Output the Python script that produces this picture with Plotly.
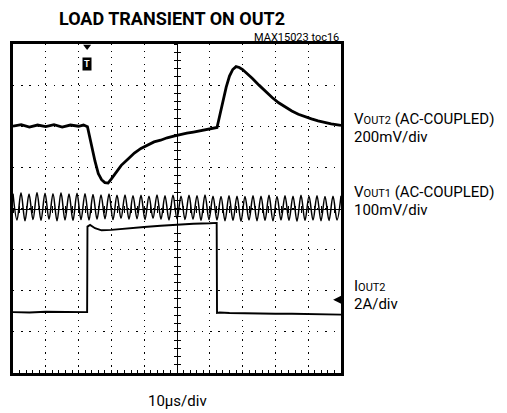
import numpy as np
import plotly.graph_objects as go

# ---- data (screen divisions: x 0..10, y 0..8) ----
vout2_t = [0, 0.25, 0.5, 0.75, 1.0, 1.25, 1.5, 1.75, 2.0, 2.15, 2.27, 2.4, 2.5, 2.6, 2.7, 2.8, 2.9,
           3.0, 3.15, 3.3, 3.5, 3.7, 3.9, 4.1, 4.3, 4.5, 4.7, 4.9, 5.1, 5.3, 5.5, 5.7, 5.9, 6.1, 6.22,
           6.3, 6.4, 6.5, 6.6, 6.7, 6.8, 6.9, 7.0, 7.15, 7.3, 7.5, 7.7, 7.9, 8.1, 8.3, 8.5, 8.7, 8.9,
           9.1, 9.3, 9.5, 9.7, 9.85, 10.0]
vout2_v = [6.00, 6.04, 5.98, 6.03, 5.99, 6.04, 5.98, 6.03, 6.00, 6.03, 5.99, 5.50, 5.15, 4.85, 4.70, 4.63, 4.62,
           4.72, 4.88, 5.05, 5.20, 5.35, 5.46, 5.55, 5.62, 5.66, 5.72, 5.76, 5.80, 5.83, 5.86, 5.89, 5.92, 5.95, 5.97,
           6.25, 6.62, 6.95, 7.22, 7.38, 7.45, 7.43, 7.38, 7.28, 7.16, 7.00, 6.84, 6.70, 6.57, 6.46, 6.37, 6.29, 6.23,
           6.18, 6.13, 6.09, 6.06, 6.04, 6.02]

vout1_v = [4.36, 3.72, 4.38, 3.70, 4.35, 3.73, 4.39, 3.71, 4.37, 3.74,
           4.36, 3.70, 4.38, 3.72, 4.35, 3.71, 4.37, 3.73, 4.36, 3.72,
           4.34, 3.74, 4.33, 3.75, 4.35, 3.73, 4.32, 3.76, 4.33, 3.74,
           4.31, 3.75, 4.32, 3.73, 4.30, 3.76, 4.33, 3.74, 4.31, 3.72,
           4.32, 3.75, 4.30, 3.73, 4.32, 3.74, 4.31, 3.71, 4.33, 3.73,
           4.30, 3.72, 4.29, 3.70, 4.31, 3.71, 4.30, 3.69, 4.29, 3.72,
           4.31, 3.70, 4.30, 3.71, 4.32, 3.70, 4.29, 3.72, 4.31, 3.71,
           4.30, 3.69, 4.32, 3.71, 4.30, 3.72, 4.31, 3.70, 4.29, 3.71,
           4.30, 3.72, 4.31]
vout1_t = np.linspace(0, 10, len(vout1_v))

iout2_t = [0, 0.5, 1.0, 1.5, 2.0, 2.26, 2.27, 2.35, 2.5, 2.7, 3.0, 3.5, 4.0, 4.5, 5.0, 5.5, 6.0, 6.21,
           6.22, 6.3, 6.6, 7.0, 7.5, 8.0, 8.5, 9.0, 9.5, 10.0]
iout2_v = [1.48, 1.47, 1.49, 1.48, 1.47, 1.48, 3.56, 3.60, 3.52, 3.47, 3.48, 3.52, 3.55, 3.58, 3.61, 3.63, 3.64, 3.65,
           1.46, 1.47, 1.46, 1.45, 1.45, 1.44, 1.44, 1.43, 1.43, 1.42]

trigger_t = 2.26
iout2_ref = 1.78

title_text = "LOAD TRANSIENT ON OUT2"
tag_text = "MAX15023 toc16"
labels = [
    ("V<span style='font-size:11px'>OUT2</span> (AC-COUPLED)", "200mV/div", 119, 137),
    ("V<span style='font-size:11px'>OUT1</span> (AC-COUPLED)", "100mV/div", 192, 210),
    ("I<span style='font-size:11px'>OUT2</span>", "2A/div", 286, 304),
]
xlabel = "10µs/div"

# ---- geometry ----
W, H = 507, 413
PL, PR, PT, PB = 13, 341, 44, 373
def px(x):
    return (x - PL) / (PR - PL)
def py(y):
    return (PB - y) / (PB - PT)

FONT = "Roboto, Liberation Sans, sans-serif"

fig = go.Figure()
fig.add_trace(go.Scatter(x=vout1_t, y=vout1_v, mode="lines", line=dict(color="black", width=1.5, shape="spline", smoothing=1.0),
                         showlegend=False, hoverinfo="skip"))
fig.add_trace(go.Scatter(x=vout2_t, y=vout2_v, mode="lines", line=dict(color="black", width=2.8),
                         showlegend=False, hoverinfo="skip"))
fig.add_trace(go.Scatter(x=iout2_t, y=iout2_v, mode="lines", line=dict(color="black", width=1.9),
                         showlegend=False, hoverinfo="skip"))
# trigger triangle on top edge
fig.add_trace(go.Scatter(x=[trigger_t], y=[7.94], mode="markers", marker=dict(symbol="triangle-down", size=7, color="black"),
                         cliponaxis=False, showlegend=False, hoverinfo="skip"))
# center-line axes helper traces
for xa, ya in (("x2", "y2"), ("x3", "y3")):
    fig.add_trace(go.Scatter(x=[None], y=[None], xaxis=xa, yaxis=ya, showlegend=False, hoverinfo="skip"))

grid_common = dict(showticklabels=False, zeroline=False, showline=True, linecolor="black", linewidth=2.5,
                   mirror=True, gridcolor="black", gridwidth=1.3)
center_common = dict(anchor="free", position=0.5, tick0=0, tickcolor="black", tickwidth=1, ticklen=3,
                     showticklabels=False, showgrid=False, zeroline=False)
fig.update_layout(
    width=W, height=H, autosize=False,
    margin=dict(l=PL, r=W - PR, t=PT, b=H - PB, pad=0),
    paper_bgcolor="white", plot_bgcolor="white",
    font=dict(family=FONT, color="black"),
    xaxis=dict(range=[0, 10], dtick=1, tick0=0, griddash="1.3px,5.26px", ticks="inside", ticklen=3,
               tickcolor="black", tickwidth=1, minor=dict(dtick=0.2, ticks="inside", ticklen=3, tickcolor="black", showgrid=False),
               **grid_common),
    yaxis=dict(range=[0, 8], dtick=1, tick0=0, griddash="1.3px,6.92px", ticks="", **grid_common),
    xaxis2=dict(range=[0, 10], overlaying="x", showline=True, linecolor="black", linewidth=1,
                ticks="outside", dtick=0.2, **center_common),
    xaxis3=dict(range=[0, 10], overlaying="x", showline=False, ticks="inside", dtick=0.2, **center_common),
    yaxis2=dict(range=[0, 8], overlaying="y", showline=True, linecolor="black", linewidth=1,
                ticks="outside", dtick=0.2, **center_common),
    yaxis3=dict(range=[0, 8], overlaying="y", showline=False, ticks="inside", dtick=0.2, **center_common),
    title=dict(text="<b>" + title_text + "</b>", x=172 / W, xanchor="center", y=1 - 19 / H, yanchor="middle",
               font=dict(family=FONT, size=18, color="black", weight=900)),
)

ann = []
ann.append(dict(text=tag_text, xref="paper", yref="paper", x=px(341), y=py(37), xanchor="right", yanchor="middle",
                showarrow=False, font=dict(family=FONT, size=11)))
for l1, l2, y1, y2 in labels:
    ann.append(dict(text=l1, xref="paper", yref="paper", x=px(352), y=py(y1), xanchor="left", yanchor="middle",
                    showarrow=False, font=dict(family=FONT, size=15)))
    ann.append(dict(text=l2, xref="paper", yref="paper", x=px(352), y=py(y2), xanchor="left", yanchor="middle",
                    showarrow=False, font=dict(family=FONT, size=15)))
ann.append(dict(text=xlabel, xref="paper", yref="paper", x=px(177), y=py(401), xanchor="center", yanchor="middle",
                showarrow=False, font=dict(family=FONT, size=15)))
# trigger "T" box
ann.append(dict(text="<b>T</b>", x=trigger_t, y=py(57), xref="x", yref="paper", showarrow=False, bgcolor="black",
                borderpad=1, font=dict(family=FONT, size=9, color="white")))
# ground reference arrow for IOUT2
ann.append(dict(text="", x=9.76, y=iout2_ref, xref="x", yref="y", showarrow=True, ax=7, ay=0,
                arrowhead=2, arrowsize=1, arrowwidth=1.6, arrowcolor="black"))
fig.update_layout(annotations=ann)

fig.write_html("out.html", config={"displayModeBar": False}, post_script="document.body.style.margin='0';")
